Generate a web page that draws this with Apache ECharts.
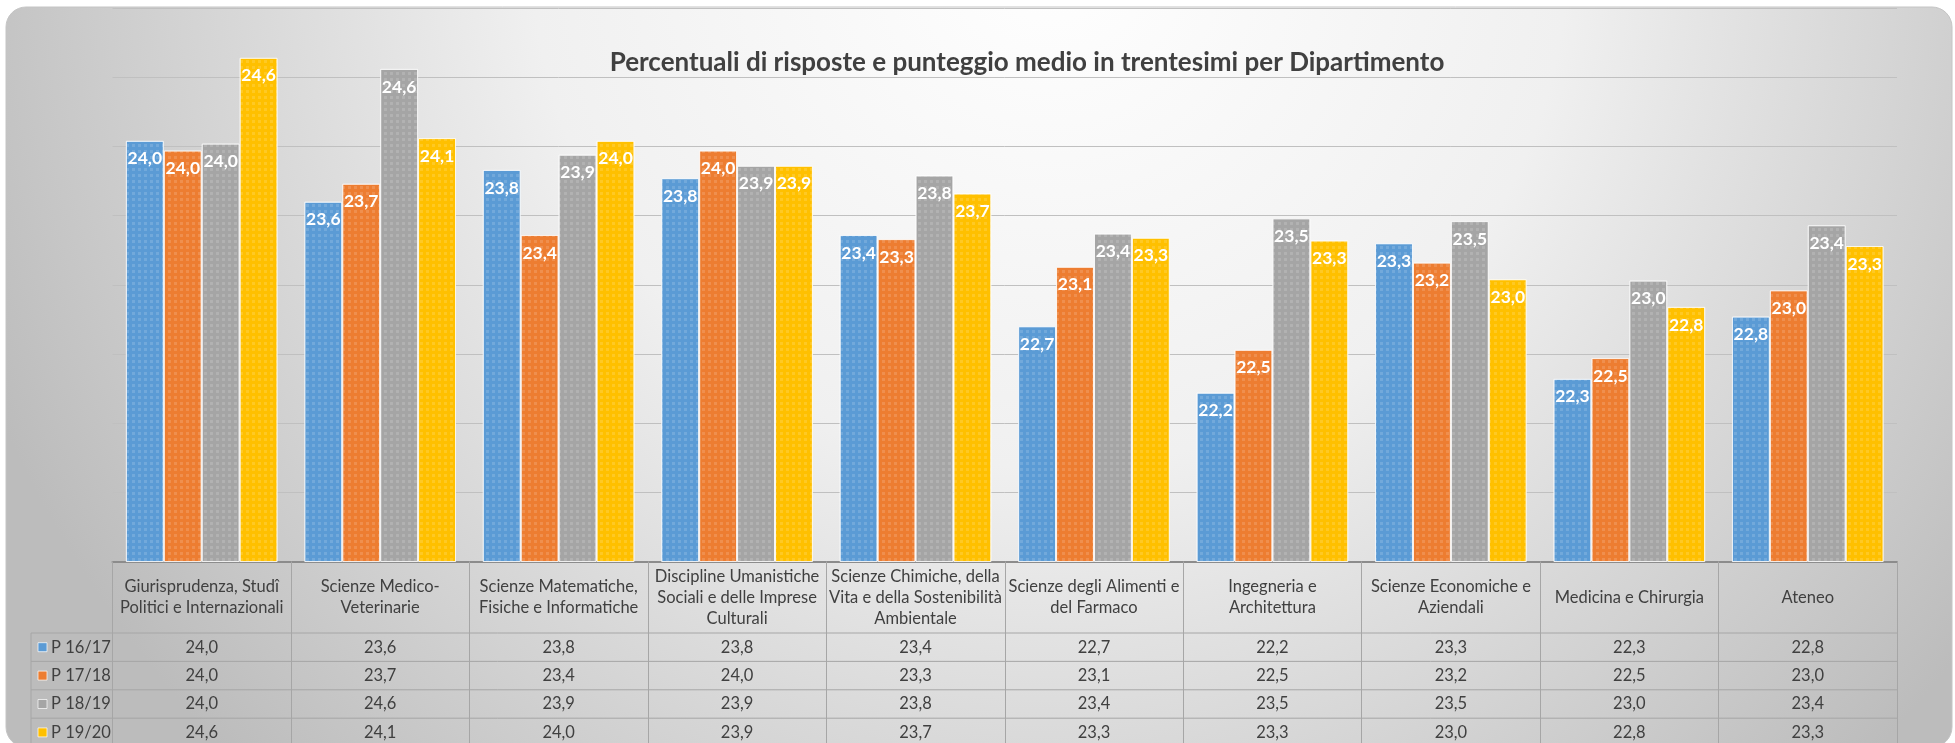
<!DOCTYPE html>
<html>
<head>
<meta charset="utf-8">
<title>Punteggio medio per Dipartimento</title>
<script src="https://cdn.jsdelivr.net/npm/echarts@6/dist/echarts.min.js"></script>
<style>
    html, body { margin: 0; padding: 0; background: #ffffff; }
    #main { width: 1955px; height: 743px; }
</style>
</head>
<body>
<div id="main"></div>
<script>
// dati
var categories = [
    'Giurisprudenza, Studî Politici e Internazionali',
    'Scienze Medico-Veterinarie',
    'Scienze Matematiche, Fisiche e Informatiche',
    'Discipline Umanistiche Sociali e delle Imprese Culturali',
    'Scienze Chimiche, della Vita e della Sostenibilità Ambientale',
    'Scienze degli Alimenti e del Farmaco',
    'Ingegneria e Architettura',
    'Scienze Economiche e Aziendali',
    'Medicina e Chirurgia',
    'Ateneo'
];
// etichette della tabella, con gli a capo
var headerLabels = [
    'Giurisprudenza, Studî\nPolitici e Internazionali',
    'Scienze Medico-\nVeterinarie',
    'Scienze Matematiche,\nFisiche e Informatiche',
    'Discipline Umanistiche\nSociali e delle Imprese\nCulturali',
    'Scienze Chimiche, della\nVita e della Sostenibilità\nAmbientale',
    'Scienze degli Alimenti e\ndel Farmaco',
    'Ingegneria e\nArchitettura',
    'Scienze Economiche e\nAziendali',
    'Medicina e Chirurgia',
    'Ateneo'
];
var seriesNames = ['P 16/17', 'P 17/18', 'P 18/19', 'P 19/20'];
var p1617 = [24.04, 23.60, 23.83, 23.77, 23.36, 22.70, 22.22, 23.30, 22.32, 22.77];
var p1718 = [23.97, 23.73, 23.36, 23.97, 23.33, 23.13, 22.53, 23.16, 22.47, 22.96];
var p1819 = [24.02, 24.56, 23.94, 23.86, 23.79, 23.37, 23.48, 23.46, 23.03, 23.43];
var p1920 = [24.64, 24.06, 24.04, 23.86, 23.66, 23.34, 23.32, 23.04, 22.84, 23.28];
var yTicks = [21, 25, 0.5]; // min, max, passo
var colors = ['#5b9bd5', '#ed7d31', '#a5a5a5', '#ffc000'];

var rows = [p1617, p1718, p1819, p1920];

function fmt(v) {
    return v.toFixed(1).replace('.', ',');
}

var FONT = 'Lato';
var TXT = '#404040';
var gridLeft = 112.5, gridRightX = 1897, gridTop = 8, base = 561.5;
var headerH = 71.5, rowH = 28.4, legendX = 31;

var chart = echarts.init(document.getElementById('main'));

// assi x: intestazione + una riga per serie
var xAxes = [{
    type: 'category',
    data: categories,
    axisLine: { lineStyle: { color: '#8c8c8c', width: 2 } },
    axisTick: { show: true, interval: 0, length: headerH + rowH * 4 + 6, lineStyle: { color: '#a6a6a6', width: 1 } },
    axisLabel: {
        interval: 0,
        margin: headerH / 2,
        verticalAlign: 'middle',
        lineHeight: 21,
        fontSize: 16.5,
        fontFamily: FONT,
        color: TXT,
        formatter: function (v, i) { return headerLabels[i]; }
    }
}];
for (var k = 0; k < rows.length; k++) {
    (function (k) {
        xAxes.push({
            type: 'category',
            data: categories,
            position: 'bottom',
            offset: headerH + rowH * k + rowH / 2,
            axisLine: { show: false },
            axisTick: { show: false },
            axisLabel: {
                interval: 0,
                margin: 0,
                verticalAlign: 'middle',
                fontSize: 16.5,
                fontFamily: FONT,
                color: TXT,
                formatter: function (v, i) { return fmt(rows[k][i]); }
            }
        });
    })(k);
}

var series = [];
for (var s = 0; s < rows.length; s++) {
    series.push({
        name: seriesNames[s],
        type: 'bar',
        xAxisIndex: 0,
        data: rows[s],
        barGap: '0%',
        barCategoryGap: '15%',
        itemStyle: {
            color: colors[s],
            borderColor: 'rgba(255,255,255,0.6)',
            borderWidth: 1,
            decal: {
                symbol: 'rect',
                symbolSize: 1,
                dashArrayX: [3, 3],
                dashArrayY: [3, 3],
                color: 'rgba(255,255,255,0.14)'
            }
        },
        label: {
            show: true,
            position: 'insideTop',
            distance: 9,
            color: '#ffffff',
            fontWeight: 'bold',
            fontSize: 17.5,
            fontFamily: FONT,
            formatter: function (p) { return fmt(p.value); }
        }
    });
}

// sfondo e bordi della tabella
var graphics = [{
    type: 'rect',
    z: -100,
    silent: true,
    shape: { x: 6, y: 7, width: 1946, height: 740, r: 20 },
    style: {
        fill: new echarts.graphic.RadialGradient(1050, -50, 1150, [
            { offset: 0, color: '#ffffff' },
            { offset: 0.45, color: '#f0f0f0' },
            { offset: 1, color: '#bcbcbc' }
        ], true),
        stroke: '#c4c4c4',
        lineWidth: 1
    }
}];
for (var r = 0; r <= rows.length; r++) {
    var yy = base + headerH + rowH * r;
    graphics.push({
        type: 'line', silent: true,
        shape: { x1: legendX, y1: yy, x2: gridRightX, y2: yy },
        style: { stroke: '#a6a6a6', lineWidth: 1 }
    });
}
graphics.push({
    type: 'line', silent: true,
    shape: { x1: legendX, y1: base + headerH, x2: legendX, y2: 750 },
    style: { stroke: '#a6a6a6', lineWidth: 1 }
});
for (var j = 0; j < seriesNames.length; j++) {
    var cy = base + headerH + rowH * j + rowH / 2;
    graphics.push({
        type: 'rect', silent: true,
        shape: { x: 38, y: cy - 4.5, width: 9, height: 9 },
        style: { fill: colors[j], stroke: 'rgba(255,255,255,0.7)', lineWidth: 1 }
    });
    graphics.push({
        type: 'text', silent: true,
        x: 51, y: cy,
        style: { text: seriesNames[j], fill: TXT, font: '16.5px ' + FONT, verticalAlign: 'middle' }
    });
}

chart.setOption({
    animation: false,
    title: {
        text: 'Percentuali di risposte e punteggio medio in trentesimi per Dipartimento',
        left: 1022,
        top: 45,
        textAlign: 'center',
        textStyle: { fontFamily: FONT, fontWeight: 'bold', fontSize: 26, color: TXT }
    },
    grid: {
        left: gridLeft,
        right: 1955 - gridRightX,
        top: gridTop,
        bottom: 743 - base
    },
    xAxis: xAxes,
    yAxis: {
        type: 'value',
        min: yTicks[0],
        max: yTicks[1],
        interval: yTicks[2],
        axisLabel: { show: false },
        axisLine: { show: false },
        axisTick: { show: false },
        splitLine: { lineStyle: { color: '#c0c0c0', width: 1 } }
    },
    graphic: graphics,
    series: series
});
</script>
</body>
</html>
